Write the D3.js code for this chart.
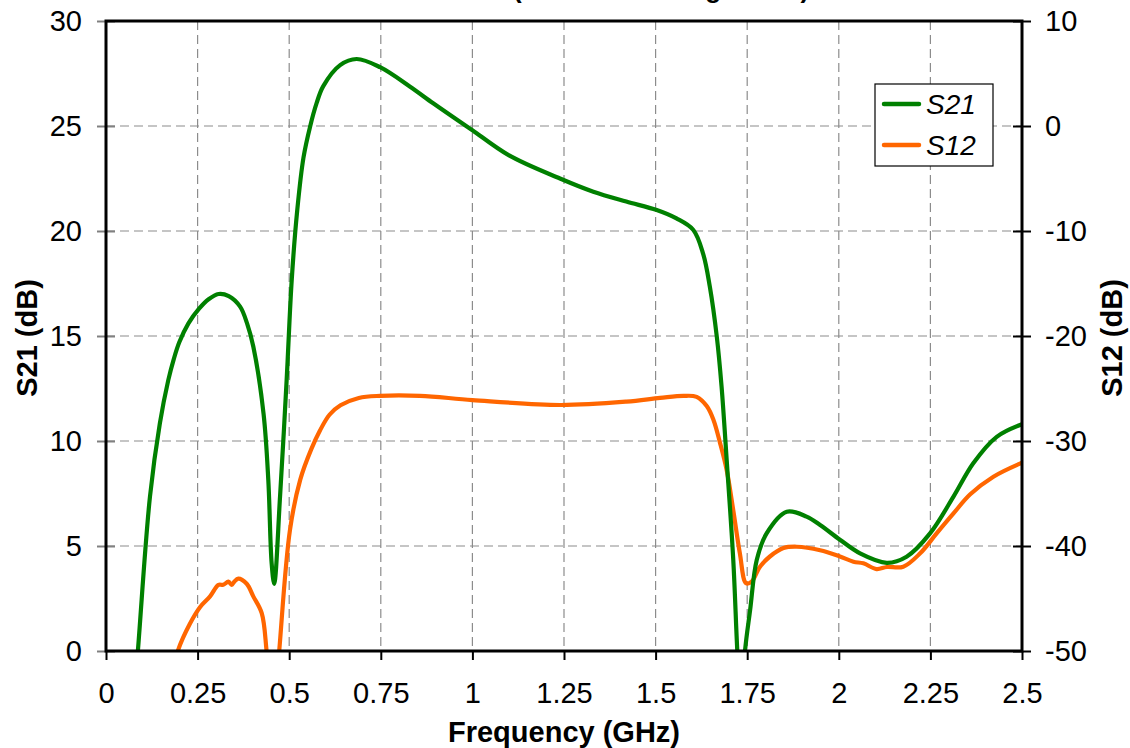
<!DOCTYPE html>
<html><head><meta charset="utf-8">
<script src="https://cdn.jsdelivr.net/npm/d3@7"></script>
<style>
body{margin:0;background:#fff;}
text{font-family:"Liberation Sans",Arial,sans-serif;}
</style></head>
<body><svg id="chart" width="1130" height="748"></svg>
<script>
const xTicks = [0,0.25,0.5,0.75,1,1.25,1.5,1.75,2,2.25,2.5];
const xTickLabels = ["0","0.25","0.5","0.75","1","1.25","1.5","1.75","2","2.25","2.5"];
const leftTicks = [0,5,10,15,20,25,30];
const leftTickLabels = ["0","5","10","15","20","25","30"];
const rightTicks = [-50,-40,-30,-20,-10,0,10];
const rightTickLabels = ["-50","-40","-30","-20","-10","0","10"];

const s21Freq = [0.06,0.087,0.12,0.147,0.17,0.185,0.2,0.225,0.254,0.28,0.307,0.335,0.366,0.385,0.402,0.43,0.443,0.452,0.459,0.475,0.493,0.507,0.522,0.539,0.557,0.575,0.593,0.639,0.684,0.748,0.83,0.893,0.966,1.0,1.1,1.239,1.33,1.42,1.503,1.557,1.603,1.63,1.648,1.667,1.68,1.694,1.712,1.723,1.733,1.744,1.758,1.776,1.803,1.858,1.912,1.949,2.003,2.058,2.131,2.185,2.249,2.313,2.367,2.431,2.5];
const s21Vals = [-6,0,7.35,10.84,12.9,13.9,14.7,15.6,16.3,16.75,17.0,16.9,16.4,15.6,14.5,11.3,8.14,4.2,3.2,7.35,12.9,17.7,21.0,23.5,24.97,26.1,26.9,27.9,28.19,27.8,26.87,26.08,25.2,24.8,23.6,22.5,21.87,21.4,21.0,20.6,20.05,18.9,17.35,14.97,12.6,9.1,4.33,0,-3,0,1.95,4.33,5.6,6.63,6.4,6.0,5.3,4.65,4.2,4.49,5.6,7.35,8.94,10.2,10.8];

const s12Freq = [0.17,0.197,0.229,0.257,0.284,0.307,0.32,0.334,0.343,0.35,0.361,0.384,0.402,0.425,0.438,0.455,0.473,0.502,0.53,0.56,0.584,0.61,0.64,0.69,0.748,0.857,1.0,1.239,1.42,1.512,1.576,1.612,1.64,1.658,1.676,1.694,1.712,1.73,1.747,1.762,1.785,1.812,1.849,1.885,1.949,2.003,2.04,2.067,2.103,2.131,2.176,2.222,2.267,2.313,2.358,2.422,2.5];
const s12Vals = [-54,-49.9,-47.4,-45.8,-44.8,-43.7,-43.7,-43.4,-43.7,-43.4,-43.1,-43.6,-44.8,-46.4,-49.9,-58,-49.9,-38.5,-33.7,-30.8,-29,-27.5,-26.6,-25.9,-25.7,-25.7,-26.1,-26.57,-26.25,-25.9,-25.7,-25.8,-26.7,-28.0,-30.2,-32.76,-36.6,-40.7,-43.55,-43.4,-41.97,-41.0,-40.2,-40.07,-40.4,-41.0,-41.5,-41.65,-42.2,-42.0,-41.97,-40.7,-38.8,-36.9,-35.1,-33.4,-32.07];

const seriesNames = ["S21","S12"];
const seriesColors = ["#008000","#FF6600"];

const svg = d3.select("#chart");
const L = 106, R = 1022, T = 21, B = 651;
const x = d3.scaleLinear().domain([0,2.5]).range([L,R]);
const yL = d3.scaleLinear().domain([0,30]).range([B,T]);
const yR = d3.scaleLinear().domain([-50,10]).range([B,T]);

// title (mostly cut off at top of the picture)
svg.append("text").attr("x",513).attr("y",-2).attr("text-anchor","end").attr("font-size",26).attr("font-weight","bold").text("S-Parameters ");
svg.append("text").attr("x",513).attr("y",-2).attr("font-size",26).attr("font-weight","bold").text("(Measured Design Data)");

// grid
const grid = svg.append("g").attr("stroke","#8c8c8c").attr("stroke-width",1.2).attr("stroke-dasharray","9,5");
grid.selectAll("line.v").data(xTicks.slice(1,-1)).join("line")
  .attr("x1",d=>x(d)).attr("x2",d=>x(d)).attr("y1",T).attr("y2",B);
grid.selectAll("line.h").data(leftTicks.slice(1,-1)).join("line")
  .attr("x1",L).attr("x2",R).attr("y1",d=>yL(d)).attr("y2",d=>yL(d));

// clip
svg.append("clipPath").attr("id","clip").append("rect").attr("x",L).attr("y",T).attr("width",R-L).attr("height",B-T);

const line21 = d3.line().x((d,i)=>x(s21Freq[i])).y(d=>yL(d)).curve(d3.curveCatmullRom.alpha(0.5));
const line12 = d3.line().x((d,i)=>x(s12Freq[i])).y(d=>yR(d)).curve(d3.curveCatmullRom.alpha(0.5));
const plot = svg.append("g").attr("clip-path","url(#clip)");
plot.append("path").attr("d",line12(s12Vals)).attr("fill","none").attr("stroke",seriesColors[1]).attr("stroke-width",4.2).attr("stroke-linejoin","round");
plot.append("path").attr("d",line21(s21Vals)).attr("fill","none").attr("stroke",seriesColors[0]).attr("stroke-width",4.2).attr("stroke-linejoin","round");

// axes
const axL = d3.axisLeft(yL).tickValues(leftTicks).tickFormat((d,i)=>leftTickLabels[i]).tickSize(9).tickPadding(15);
const gL = svg.append("g").attr("transform",`translate(${L},0)`).call(axL);
gL.select(".domain").remove();
gL.selectAll(".tick line").attr("stroke","#808080").attr("stroke-width",2).attr("x2",-9).attr("x1",9);
gL.selectAll(".tick text").attr("font-size",29).attr("fill","#000").attr("font-family","Liberation Sans, Arial, sans-serif");

const axR = d3.axisRight(yR).tickValues(rightTicks).tickFormat((d,i)=>rightTickLabels[i]).tickSize(9).tickPadding(14);
const gR = svg.append("g").attr("transform",`translate(${R},0)`).call(axR);
gR.select(".domain").remove();
gR.selectAll(".tick line").attr("stroke","#000").attr("stroke-width",2).attr("x1",-9).attr("x2",9);
gR.selectAll(".tick text").attr("font-size",29).attr("fill","#000").attr("font-family","Liberation Sans, Arial, sans-serif");

const axB = d3.axisBottom(x).tickValues(xTicks).tickFormat((d,i)=>xTickLabels[i]).tickSize(9).tickPadding(22);
const gB = svg.append("g").attr("transform",`translate(0,${B})`).call(axB);
gB.select(".domain").remove();
gB.selectAll(".tick line").attr("stroke","#000").attr("stroke-width",2);
gB.selectAll(".tick text").attr("font-size",29).attr("fill","#000").attr("font-family","Liberation Sans, Arial, sans-serif");

// frame
svg.append("rect").attr("x",L).attr("y",T).attr("width",R-L).attr("height",B-T).attr("fill","none").attr("stroke","#000").attr("stroke-width",3);

// axis titles
svg.append("text").attr("x",564).attr("y",742).attr("text-anchor","middle").attr("font-size",29).attr("font-weight","bold").text("Frequency (GHz)");
svg.append("text").attr("transform","translate(37,338) rotate(-90)").attr("text-anchor","middle").attr("font-size",29).attr("font-weight","bold").text("S21 (dB)");
svg.append("text").attr("transform","translate(1122,338) rotate(-90)").attr("text-anchor","middle").attr("font-size",29).attr("font-weight","bold").text("S12 (dB)");

// legend
const lg = svg.append("g");
lg.append("rect").attr("x",875).attr("y",84).attr("width",118).attr("height",82).attr("fill","#fff").attr("stroke","#000").attr("stroke-width",1.2);
seriesNames.forEach((n,i)=>{
  const yy = 104 + i*41;
  lg.append("line").attr("x1",884).attr("x2",919).attr("y1",yy).attr("y2",yy).attr("stroke",seriesColors[i]).attr("stroke-width",4.5).attr("stroke-linecap","round");
  lg.append("text").attr("x",926).attr("y",yy+10).attr("font-size",28).attr("font-style","italic").text(n);
});
</script></body></html>
